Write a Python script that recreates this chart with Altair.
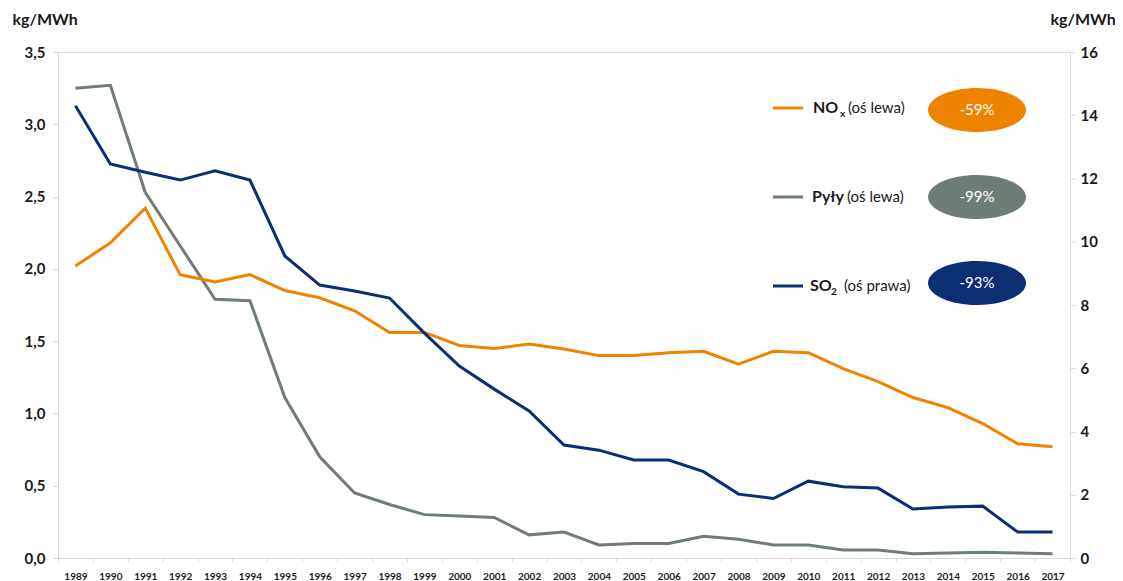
import altair as alt
import pandas as pd

years = ["1989", "1990", "1991", "1992", "1993", "1994", "1995", "1996", "1997", "1998",
         "1999", "2000", "2001", "2002", "2003", "2004", "2005", "2006", "2007", "2008",
         "2009", "2010", "2011", "2012", "2013", "2014", "2015", "2016", "2017"]

nox = [2.02, 2.18, 2.42, 1.96, 1.91, 1.96, 1.85, 1.80, 1.71, 1.56,
       1.56, 1.47, 1.45, 1.48, 1.445, 1.40, 1.40, 1.42, 1.43, 1.34,
       1.43, 1.42, 1.31, 1.22, 1.11, 1.04, 0.93, 0.79, 0.77]

pyly = [3.25, 3.27, 2.53, 2.16, 1.79, 1.78, 1.11, 0.70, 0.45, 0.37,
        0.30, 0.29, 0.28, 0.16, 0.18, 0.09, 0.10, 0.10, 0.15, 0.13,
        0.09, 0.09, 0.055, 0.055, 0.03, 0.035, 0.04, 0.035, 0.03]

so2 = [14.3, 12.46, 12.2, 11.95, 12.24, 11.95, 9.55, 8.63, 8.44, 8.22,
       7.11, 6.07, 5.34, 4.65, 3.57, 3.41, 3.10, 3.10, 2.73, 2.02,
       1.88, 2.43, 2.25, 2.21, 1.55, 1.61, 1.64, 0.82, 0.82]

left_ticks = [0, 0.5, 1.0, 1.5, 2.0, 2.5, 3.0, 3.5]
right_ticks = [0, 2, 4, 6, 8, 10, 12, 14, 16]

changes = ["-59%", "-99%", "-93%"]

ORANGE = "#EF8300"
GREY = "#6E7E77"
NAVY = "#0C2E72"
FONT = "Lato"
TXT = "#1a1a1a"
AXC = "#d9d9d9"

W, H = 1012, 506

df = pd.DataFrame({"year": years, "nox": nox, "pyly": pyly, "so2": so2})

xenc = alt.X("year:O", bandPosition=0.5,
             scale=alt.Scale(type="band", paddingInner=0, paddingOuter=0),
             axis=alt.Axis(title=None, labelAngle=0, tickBand="extent", labelFont=FONT,
                           labelFontSize=10, labelFontWeight="bold", labelColor=TXT,
                           domainColor=AXC, tickColor=AXC, tickSize=4, labelPadding=9,
                           grid=False))

left_axis = alt.Axis(values=left_ticks, title="kg/MWh", titleAngle=0, titleAlign="left",
                     titleBaseline="middle", titleX=-46, titleY=-33, titleFont=FONT,
                     titleFontSize=16, titleFontWeight="bold", titleColor=TXT,
                     labelFont=FONT, labelFontSize=15, labelFontWeight="bold", labelColor=TXT,
                     labelExpr="replace(format(datum.value, '.1f'), '.', ',')",
                     domainColor=AXC, tickColor=AXC, tickSize=5, labelPadding=8, grid=False)

right_axis = alt.Axis(values=right_ticks, orient="right", title="kg/MWh", titleAngle=0,
                      titleAlign="left", titleBaseline="middle", titleX=-20, titleY=-33,
                      titleFont=FONT, titleFontSize=16, titleFontWeight="bold", titleColor=TXT,
                      labelFont=FONT, labelFontSize=15, labelFontWeight="bold", labelColor=TXT,
                      format="d", domainColor=AXC, tickColor=AXC, tickSize=5, labelPadding=5,
                      grid=False)

base = alt.Chart(df)
lscale = alt.Scale(domain=[0, 3.5], nice=False, zero=True)

pyly_line = base.mark_line(color=GREY, strokeWidth=3).encode(
    x=xenc, y=alt.Y("pyly:Q", scale=lscale, axis=left_axis))
nox_line = base.mark_line(color=ORANGE, strokeWidth=3).encode(
    x=xenc, y=alt.Y("nox:Q", scale=lscale))
so2_line = base.mark_line(color=NAVY, strokeWidth=3).encode(
    x=xenc, y=alt.Y("so2:Q", scale=alt.Scale(domain=[0, 16], nice=False), axis=right_axis))

left = alt.layer(pyly_line, nox_line)

# ---- legend decoration ----
one = pd.DataFrame({"k": [0]})
ELLIPSE = "M -1 0 A 1 0.45 0 1 1 1 0 A 1 0.45 0 1 1 -1 0 Z"

def seg(x1, x2, y, color):
    return alt.Chart(one).mark_rule(color=color, strokeWidth=3).encode(
        x=alt.value(x1), x2=alt.value(x2), y=alt.value(y))

def txt(s, x, y, size, weight="normal", color=TXT, align="left"):
    return alt.Chart(one).mark_text(text=s, font=FONT, fontSize=size, fontWeight=weight,
                                    color=color, align=align, baseline="middle").encode(
        x=alt.value(x), y=alt.value(y))

def oval(x, y, color):
    return alt.Chart(one).mark_point(shape=ELLIPSE, size=9604, filled=True, opacity=1,
                                     color=color, strokeWidth=0).encode(
        x=alt.value(x), y=alt.value(y))

rows = [
    (56, 58, ORANGE, [("NO", 755, 0, 16, "bold"), ("x", 782, 6, 10, "bold"), ("(oś lewa)", 790, 0, 15, "normal")], changes[0]),
    (145, 145, GREY, [("Pyły", 754, 0, 16, "bold"), ("(oś lewa)", 789, 0, 15, "normal")], changes[1]),
    (234, 231, NAVY, [("SO", 752, 0, 16, "bold"), ("2", 773, 6, 10, "bold"), ("(oś prawa)", 786, 0, 15, "normal")], changes[2]),
]

legend_layers = []
for ly, ey, col, parts, ch in rows:
    legend_layers.append(seg(715, 745, ly, col))
    for s, x, dy, sz, wt in parts:
        legend_layers.append(txt(s, x, ly + dy, sz, wt))
    legend_layers.append(oval(919, ey, col))
    legend_layers.append(txt(ch, 919, ey, 15, "normal", "white", "center"))

chart = alt.layer(left, so2_line, *legend_layers).resolve_scale(y="independent").properties(
    width=W, height=H,
    autosize=alt.AutoSizeParams(type="none"),
    padding={"left": 50, "top": 44, "right": 45, "bottom": 24},
).configure_view(stroke=None).configure(background="white")

chart.save("out.html", embed_options={"renderer": "svg", "actions": False})
